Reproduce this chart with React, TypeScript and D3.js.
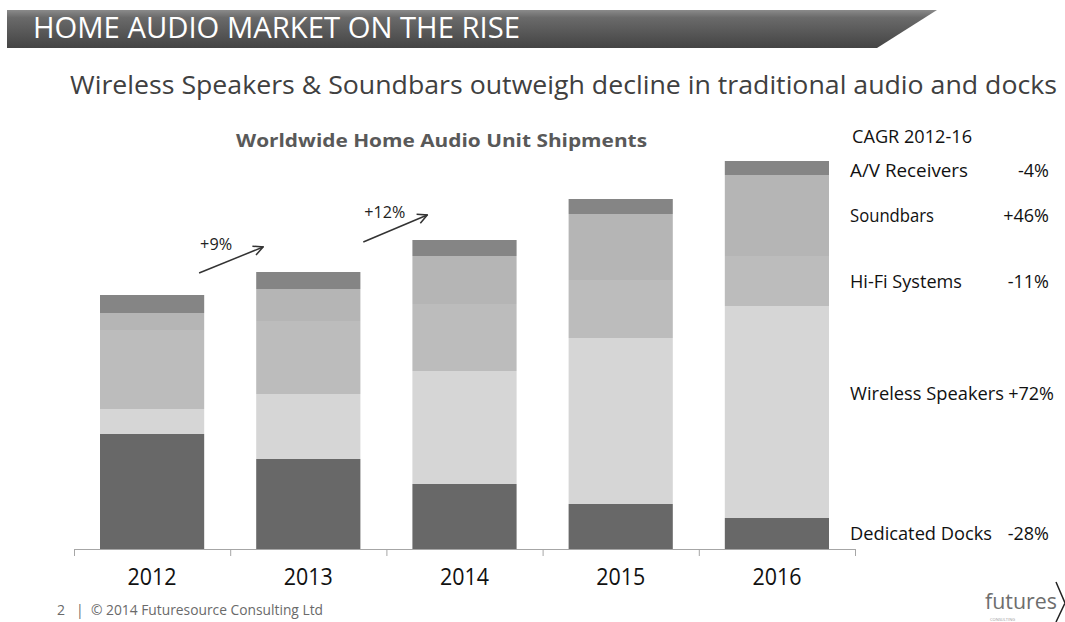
import React from "react";
import * as d3 from "d3";

const years = ["2012", "2013", "2014", "2015", "2016"];
const segments = ["Dedicated Docks", "Wireless Speakers", "Hi-Fi Systems", "Soundbars", "A/V Receivers"];
const docks = [28.75, 22.5, 16.25, 11.25, 7.75];
const wireless = [6.25, 16.25, 28.25, 41.5, 53];
const hifi = [19.75, 18.25, 16.75, 14.5, 12.5];
const soundbars = [4.25, 8, 12, 16.5, 20.25];
const receivers = [4.5, 4.25, 4, 3.75, 3.5];
const cagr = ["-28%", "+72%", "-11%", "+46%", "-4%"];
const growth = [
  { from: 0, to: 1, label: "+9%" },
  { from: 1, to: 2, label: "+12%" },
];

const colors = ["#686868", "#d6d6d6", "#bcbcbc", "#b5b5b5", "#858585"];
const font = "'Open Sans', 'DejaVu Sans', sans-serif";

const W = 1065;
const H = 622;

export default function App() {
  const rows = years.map((y, i) => ({
    year: y,
    "Dedicated Docks": docks[i],
    "Wireless Speakers": wireless[i],
    "Hi-Fi Systems": hifi[i],
    Soundbars: soundbars[i],
    "A/V Receivers": receivers[i],
  }));
  const stacked = d3.stack<any>().keys(segments)(rows);

  const x = d3.scaleBand().domain(years).range([74, 855]).paddingInner(0.333).paddingOuter(0.1665);
  const y = d3.scaleLinear().domain([0, 100]).range([549, 149]);
  const band = d3.scaleBand().domain(years).range([74, 855]);

  // legend baselines for each segment row
  const legendY = [540, 400, 288, 222, 177];

  const totals = years.map((_, i) => docks[i] + wireless[i] + hifi[i] + soundbars[i] + receivers[i]);

  return (
    <svg width={W} height={H} style={{ position: "absolute", left: 0, top: 0, background: "#fff" }}>
      <defs>
        <linearGradient id="hdr" x1="0" y1="0" x2="0" y2="1">
          <stop offset="0" stopColor="#8a8a8a" />
          <stop offset="0.2" stopColor="#6a6a6a" />
          <stop offset="1" stopColor="#444" />
        </linearGradient>
        <marker id="arr" viewBox="0 0 10 10" refX="9" refY="5" markerWidth="12" markerHeight="12" orient="auto" markerUnits="userSpaceOnUse">
          <path d="M1,1 L9,5 L1,9" fill="none" stroke="#333" strokeWidth="1.3" />
        </marker>
      </defs>

      {/* header band */}
      <path d="M7,10 L937,10 L877,48 L7,48 Z" fill="url(#hdr)" />
      <text x={33} y={38} fill="#fff" fontFamily={font} fontSize={29} textLength={487} lengthAdjust="spacingAndGlyphs">
        HOME AUDIO MARKET ON THE RISE
      </text>

      <text x={70} y={94} fill="#404040" fontFamily={font} fontSize={26} textLength={987} lengthAdjust="spacingAndGlyphs">
        Wireless Speakers &amp; Soundbars outweigh decline in traditional audio and docks
      </text>

      <text x={236} y={147} fill="#595959" fontFamily={font} fontSize={18} fontWeight="bold" textLength={411} lengthAdjust="spacingAndGlyphs">
        Worldwide Home Audio Unit Shipments
      </text>

      {/* bars */}
      {stacked.map((s, si) => (
        <g key={s.key} fill={colors[si]}>
          {s.map((d, i) => (
            <rect key={i} x={x(years[i])} y={y(d[1])} width={x.bandwidth()} height={y(d[0]) - y(d[1])} />
          ))}
        </g>
      ))}

      {/* axis */}
      <line x1={74} x2={855} y1={549.5} y2={549.5} stroke="#a6a6a6" />
      {years.map((yr) => (
        <line key={yr} x1={band(yr)! + 0.5} x2={band(yr)! + 0.5} y1={549} y2={556} stroke="#a6a6a6" />
      ))}
      <line x1={855.5} x2={855.5} y1={549} y2={556} stroke="#a6a6a6" />
      {years.map((yr) => (
        <text key={yr} x={x(yr)! + x.bandwidth() / 2} y={585} textAnchor="middle" fill="#111" fontFamily={font} fontSize={24} textLength={49} lengthAdjust="spacingAndGlyphs">
          {yr}
        </text>
      ))}

      {/* growth arrows */}
      {growth.map((g, k) => {
        const a = x(years[g.from])! + x.bandwidth() / 2;
        const x1 = a + 47 + 8 * k;
        const x2 = x1 + 64;
        const ya = y(totals[g.from]) - 22 - 8 * k;
        const yb = y(totals[g.to]) - 25;
        return (
          <g key={k}>
            <line x1={x1} y1={ya} x2={x2} y2={yb} stroke="#333" strokeWidth={1.5} markerEnd="url(#arr)" />
            <text x={x1 + 1} y={ya - 23 - 1 * k} fill="#222" fontFamily={font} fontSize={17} textLength={k === 0 ? 32 : 41} lengthAdjust="spacingAndGlyphs">
              {g.label}
            </text>
          </g>
        );
      })}

      {/* CAGR legend */}
      <text x={852} y={143} fill="#111" fontFamily={font} fontSize={18} textLength={120} lengthAdjust="spacingAndGlyphs">
        CAGR 2012-16
      </text>
      {segments.map((s, i) => (
        <g key={s}>
          <text x={850} y={legendY[i]} fill="#111" fontFamily={font} fontSize={18}
            textLength={[142, 154, 112, 84, 118][i]} lengthAdjust="spacingAndGlyphs">
            {s}
          </text>
          <text x={i === 1 ? 1054 : 1049} y={legendY[i]} textAnchor="end" fill="#111" fontFamily={font} fontSize={18}>
            {cagr[i]}
          </text>
        </g>
      ))}

      {/* footer */}
      <g fill="#6a6a6a" fontFamily={font} fontSize={14}>
        <text x={57} y={615}>2</text>
        <text x={76} y={615}>|</text>
        <text x={91} y={615} textLength={232} lengthAdjust="spacingAndGlyphs">© 2014 Futuresource Consulting Ltd</text>
      </g>

      {/* logo */}
      <text x={985} y={609} fill="#6e6e6e" fontFamily={font} fontSize={22} textLength={72} lengthAdjust="spacingAndGlyphs">
        futures
      </text>
      <path d="M1056,582 L1065,603 L1056,622" fill="none" stroke="#222" strokeWidth={1.5} />
      <text x={990} y={621} fill="#999" fontFamily={font} fontSize={4}>CONSULTING</text>
    </svg>
  );
}
